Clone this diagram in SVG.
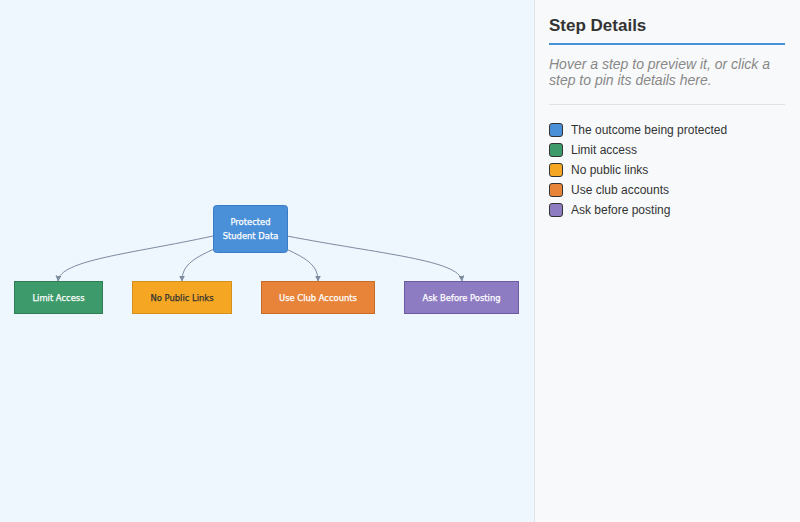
<svg xmlns="http://www.w3.org/2000/svg" width="800" height="522" viewBox="0 0 800 522">
<defs>
<style>
.node-label{font-family:"DejaVu Sans",sans-serif;font-size:8.4px;text-anchor:middle;fill:#fff;stroke:#fff;stroke-width:0.25px;}
.dark{fill:#333;stroke:#333;}
.edge{fill:none;stroke:#7d8ba0;stroke-width:1;marker-end:url(#arrow);}
.legend-text{font-family:"Liberation Sans",Arial,sans-serif;font-size:12px;fill:#333;}
.swatch{stroke:#333;stroke-width:1;}
</style>
<marker id="arrow" viewBox="0 0 10 10" refX="9" refY="5" markerWidth="6" markerHeight="6" orient="auto-start-reverse" markerUnits="userSpaceOnUse">
<path d="M0,0 L10,5 L0,10 z" fill="#7d8ba0"/>
</marker>
</defs>
<rect x="0" y="0" width="534" height="522" fill="#eef6fe"/>
<rect x="534" y="0" width="266" height="522" fill="#f8f9fb"/>
<line x1="534.5" y1="0" x2="534.5" y2="522" stroke="#dfe4ea"/>

<g id="connectors">
<path class="edge" d="M213,236 C130,254 60,260 58,281"/>
<path class="edge" d="M214,249 C192,259 182,266 182,281"/>
<path class="edge" d="M286,249 C308,259 318,266 318,281"/>
<path class="edge" d="M287,236 C380,254 460,260 462,281"/>
</g>

<g id="node-protected">
<rect x="213.5" y="205.5" width="74" height="47" rx="3" fill="#4a90d9" stroke="#3a7bc4"/>
<text class="node-label" x="250.5" y="225">Protected</text>
<text class="node-label" x="250.5" y="239">Student Data</text>
</g>
<g id="node-limit">
<rect x="14.5" y="281.5" width="88" height="32" fill="#3d9a6b" stroke="#2e7d55"/>
<text class="node-label" x="58.5" y="300.5">Limit Access</text>
</g>
<g id="node-nopublic">
<rect x="132.5" y="281.5" width="99" height="32" fill="#f5a623" stroke="#d4901e"/>
<text class="node-label dark" x="182" y="300.5">No Public Links</text>
</g>
<g id="node-club">
<rect x="261.5" y="281.5" width="113" height="32" fill="#e8843a" stroke="#c56c2a"/>
<text class="node-label" x="318" y="300.5">Use Club Accounts</text>
</g>
<g id="node-ask">
<rect x="404.5" y="281.5" width="114" height="32" fill="#8e7cc3" stroke="#6c5aa3"/>
<text class="node-label" x="461.5" y="300.5">Ask Before Posting</text>
</g>

<g id="panel">
<text x="549" y="31" font-family="Liberation Sans, Arial, sans-serif" font-size="17" font-weight="bold" fill="#333">Step Details</text>
<rect x="549" y="43" width="236" height="2" fill="#4a90d9"/>
<text font-family="Liberation Sans, Arial, sans-serif" font-size="14" font-style="italic" fill="#888">
<tspan x="549" y="69">Hover a step to preview it, or click a</tspan>
<tspan x="549" y="85">step to pin its details here.</tspan>
</text>
<line x1="549" y1="104.5" x2="785" y2="104.5" stroke="#dfe3e8"/>
<rect class="swatch" x="549.5" y="123.5" width="13" height="13" rx="2.5" fill="#4a90d9"/>
<text class="legend-text" x="571" y="134">The outcome being protected</text>
<rect class="swatch" x="549.5" y="143.5" width="13" height="13" rx="2.5" fill="#3d9a6b"/>
<text class="legend-text" x="571" y="154">Limit access</text>
<rect class="swatch" x="549.5" y="163.5" width="13" height="13" rx="2.5" fill="#f5a623"/>
<text class="legend-text" x="571" y="174">No public links</text>
<rect class="swatch" x="549.5" y="183.5" width="13" height="13" rx="2.5" fill="#e8843a"/>
<text class="legend-text" x="571" y="194">Use club accounts</text>
<rect class="swatch" x="549.5" y="203.5" width="13" height="13" rx="2.5" fill="#8e7cc3"/>
<text class="legend-text" x="571" y="214">Ask before posting</text>
</g>
</svg>
